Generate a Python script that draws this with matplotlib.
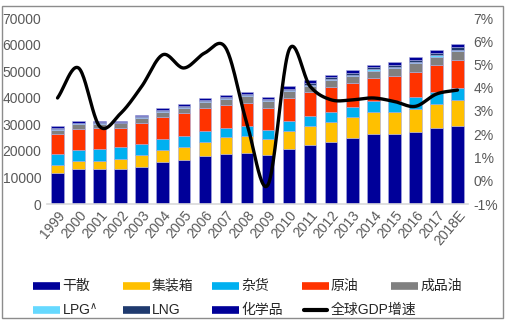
import numpy as np
import matplotlib
matplotlib.use("Agg")
import matplotlib.pyplot as plt
from matplotlib.lines import Line2D
from matplotlib.patches import Rectangle

plt.rcParams["font.family"] = ["Liberation Sans Narrow", "Liberation Sans", "Noto Sans CJK SC"]

# Data
years = ["1999", "2000", "2001", "2002", "2003", "2004", "2005", "2006", "2007", "2008",
         "2009", "2010", "2011", "2012", "2013", "2014", "2015", "2016", "2017", "2018E"]
dry_bulk = [11800, 13100, 13100, 13300, 14100, 15700, 16600, 17900, 18900, 19100,
            18500, 20800, 22300, 23500, 24900, 26300, 26300, 27100, 28600, 29400]
container = [2900, 3100, 3200, 3600, 4300, 4700, 5000, 5600, 6300, 6600,
             5900, 6800, 7100, 7400, 7700, 8200, 8500, 8800, 9100, 9700]
general = [4050, 4200, 4500, 4600, 4200, 4000, 4100, 3800, 3400, 3500,
           3300, 3700, 3800, 3900, 3900, 4100, 3800, 4200, 4500, 4600]
crude = [7550, 7800, 7800, 7100, 7900, 8500, 8500, 8800, 8600, 8800,
         8400, 8600, 8800, 9100, 9100, 8800, 9400, 9500, 10000, 10400]
products = [1600, 1900, 1600, 1700, 1800, 1900, 2100, 2100, 2300, 2500,
            2500, 2500, 2500, 2600, 2400, 2800, 3200, 3500, 3200, 3400]
lpg = [300, 250, 300, 300, 300, 350, 350, 400, 400, 400,
       400, 450, 450, 450, 500, 500, 500, 500, 600, 600]
lng = [300, 250, 300, 300, 350, 350, 350, 450, 450, 500,
       500, 600, 700, 700, 700, 700, 700, 600, 900, 1000]
chemicals = [700, 500, 500, 500, 650, 700, 700, 850, 750, 800,
             800, 1050, 1150, 1050, 1100, 1100, 1100, 1000, 1200, 1300]
gdp_growth = [3.56, 4.85, 2.34, 2.9, 4.06, 5.42, 4.85, 5.5, 5.7, 2.45,
              -0.17, 5.63, 4.06, 3.48, 3.48, 3.56, 3.41, 3.2, 3.73, 3.9]

series = [
    ("干散", dry_bulk, "#000099"),
    ("集装箱", container, "#FFC000"),
    ("杂货", general, "#00B0F0"),
    ("原油", crude, "#FF3300"),
    ("成品油", products, "#808080"),
    (r"LPG$^{\wedge}$", lpg, "#66D9FF"),
    ("LNG", lng, "#1F3A6E"),
    ("化学品", chemicals, "#000099"),
]


def smooth(y, n=24):
    # Catmull-Rom spline through the points, like Excel's smoothed line
    y = np.asarray(y, dtype=float)
    p = np.concatenate([[2 * y[0] - y[1]], y, [2 * y[-1] - y[-2]]])
    xs, ys = [], []
    t = np.linspace(0, 1, n, endpoint=False)
    for i in range(len(y) - 1):
        p0, p1, p2, p3 = p[i], p[i + 1], p[i + 2], p[i + 3]
        seg = 0.5 * (2 * p1 + (-p0 + p2) * t + (2 * p0 - 5 * p1 + 4 * p2 - p3) * t ** 2
                     + (-p0 + 3 * p1 - 3 * p2 + p3) * t ** 3)
        xs.extend(i + t)
        ys.extend(seg)
    xs.append(len(y) - 1)
    ys.append(y[-1])
    return np.array(xs), np.array(ys)


W, H = 511, 328
fig = plt.figure(figsize=(W / 100, H / 100), dpi=100)
ax = fig.add_axes([47 / W, 1 - 204 / H, (468 - 47) / W, (204 - 18) / H])

x = np.arange(len(years))
bottom = np.zeros(len(years))
for name, vals, color in series:
    ax.bar(x, vals, 0.6, bottom=bottom, color=color, edgecolor="#A9ABDD", linewidth=0.4)
    bottom += np.array(vals)

ax.set_xlim(-0.5, 19.5)
ax.set_ylim(0, 70000)
ax.set_yticks(range(0, 70001, 10000))
ax.set_xticks(x)
ax.set_xticklabels(years, rotation=50, ha="right", rotation_mode="anchor")
for s in ["top", "right", "left"]:
    ax.spines[s].set_visible(False)
ax.spines["bottom"].set_color("#D9D9D9")
ax.spines["bottom"].set_linewidth(1.2)
ax.tick_params(length=0, labelsize=10, colors="#595959", pad=4)
ax.tick_params(axis="x", pad=3)

ax2 = ax.twinx()
gx, gy = smooth(gdp_growth)
ax2.plot(gx, gy, color="black", lw=2.4, solid_capstyle="round")
ax2.set_ylim(-1, 7)
ax2.set_yticks(range(-1, 8))
ax2.set_yticklabels([f"{v}%" for v in range(-1, 8)])
for s in ax2.spines.values():
    s.set_visible(False)
ax2.tick_params(length=0, labelsize=10, colors="#595959", pad=4)

# outer frame
fig.patches.append(Rectangle((2 / W, 1 - 318 / H), 501 / W, 312 / H, transform=fig.transFigure,
                             fill=False, edgecolor="#8C8C8C", lw=1))

# legend, drawn row by row
legend_items = [(name, color, "bar") for name, _, color in series] + [("全球GDP增速", "black", "line")]
col_x = [33, 123, 212, 302, 391]
row_y = [286, 310]
for k, (name, color, kind) in enumerate(legend_items):
    cx = col_x[k % 5]
    cy = 1 - row_y[k // 5] / H
    if kind == "bar":
        fig.add_artist(Line2D([cx / W, (cx + 27) / W], [cy, cy], color=color, lw=5.5,
                              solid_capstyle="butt", transform=fig.transFigure))
    else:
        fig.add_artist(Line2D([(cx + 2) / W, (cx + 25) / W], [cy, cy], color=color, lw=3,
                              solid_capstyle="round", transform=fig.transFigure))
    fig.text((cx + 29) / W, cy, name, fontsize=10, color="#262626", va="center", ha="left")

fig.savefig("out.png", dpi=100)
